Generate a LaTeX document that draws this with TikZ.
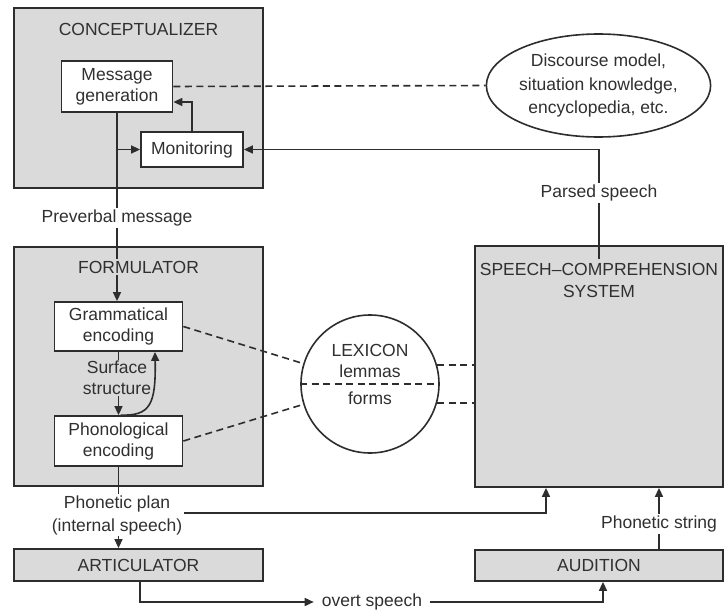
\documentclass[tikz,border=0pt]{standalone}
\usepackage{fontspec}
\setmainfont{Liberation Sans}
\usetikzlibrary{arrows.meta,shapes.geometric,calc}
\definecolor{boxgray}{RGB}{218,218,218}
\definecolor{ink}{RGB}{48,48,48}
\definecolor{edge}{RGB}{45,45,45}
\begin{document}
\begin{tikzpicture}[x=1pt,y=-1pt,
  every node/.style={font=\fontsize{17.5}{21}\selectfont, text=ink},
  box/.style={draw=edge, line width=1.8pt, fill=boxgray, inner sep=0pt},
  wbox/.style={draw=edge, line width=1.8pt, fill=white, inner sep=0pt, align=center},
  lbl/.style={fill=white, inner sep=1.5pt, align=center},
  glbl/.style={fill=boxgray, inner sep=1.5pt, align=center},
  conn/.style={draw=edge, line width=1.6pt},
  arr/.style={conn, -{Triangle[length=9pt,width=8pt]}},
  dashline/.style={draw=edge, line width=1.6pt, dash pattern=on 7pt off 4.5pt}]
\path[fill=white] (0,0) rectangle (724,610);
\useasboundingbox (0,0) rectangle (724,610);

% boxes
\node[box, minimum width=249pt, minimum height=180pt] (concept) at (138.5,98) {};
\node (conceptlbl) at (138.5,29) {CONCEPTUALIZER};
\node[wbox, minimum width=111pt, minimum height=51pt] (msg) at (117,86.5) {Message\\generation};
\node[wbox, minimum width=102pt, minimum height=35pt] (mon) at (192,149.5) {Monitoring};
\node[draw=edge, line width=1.6pt, ellipse, minimum width=177pt, minimum height=103pt, inner sep=0pt, align=center, font=\fontsize{17.5}{23.5}\selectfont] (disc) at (598.5,85.5) {Discourse model,\\situation knowledge,\\encyclopedia, etc.};

\node[box, minimum width=249pt, minimum height=239pt] (form) at (138.5,366.5) {};
\node[wbox, minimum width=128pt, minimum height=49pt] (gram) at (118.5,326.5) {Grammatical\\encoding};
\node[wbox, minimum width=128pt, minimum height=50pt] (phon) at (118.5,441) {Phonological\\encoding};
\node[draw=edge, line width=1.6pt, circle, minimum size=138pt, inner sep=0pt, fill=white] (lex) at (370,384) {};
\node[box, minimum width=248pt, minimum height=241pt] (scs) at (599,366.5) {};
\node[box, minimum width=249pt, minimum height=32pt] (artic) at (138.5,565) {ARTICULATOR};
\node[box, minimum width=248pt, minimum height=31pt] (aud) at (599,565.5) {AUDITION};

% conceptualizer connectors
\coordinate (mm) at (192,102);
\draw[arr] (mon.north) -- (mm) -- (msg.east |- mm);
\draw[arr] (msg.south) -- (msg.south |- gram.north);
\draw[arr] (msg.south |- mon.west) -- (mon.west);
\draw[dashline] (msg.east) -- (disc.west);
\coordinate (ps) at (599,259);
\draw[arr] (ps) |- (mon.east);

% formulator connectors
\draw[arr] (gram.south) -- (phon.north);
\node[glbl, font=\fontsize{17.5}{21}\selectfont] (surf) at (117,378) {Surface\\structure};
\draw[arr] ([xshift=2pt]phon.north) .. controls (150,416) and (156,405) .. ([xshift=36.5pt]gram.south);

% lexicon
\draw[dashline] (gram.east) -- (lex.163);
\draw[dashline] (phon.east) -- (lex.197);
\draw[dashline] (lex.16) -- (lex.16 -| scs.west);
\draw[dashline] (lex.344) -- (lex.344 -| scs.west);
\draw[dashline] (lex.west) -- (lex.east);
\node (lexlbl) at (370,350) {LEXICON};
\node (lemlbl) at (370,371) {lemmas};
\node (formslbl) at (370,398) {forms};

% articulation / audition
\draw[arr] (phon.south) -- (phon.south |- artic.north);
\coordinate (ppr) at (177,513);
\draw[arr] (ppr) -| ([xshift=-53pt]scs.south);
\node[lbl, inner xsep=8pt] (ov) at (372,602) {overt speech};
\draw[arr] ([xshift=1.5pt]artic.south) |- (ov.west);
\draw[arr] (ov.east) -| ([xshift=4pt]aud.south);
\draw[arr] ([xshift=60pt]aud.north) -- ([xshift=60pt]scs.south);

% labels
\node[lbl] (pv) at (117,218) {Preverbal message};
\node[lbl] (parsed) at (599,193) {Parsed speech};
\node[glbl] (formlbl) at (138.5,267) {FORMULATOR};
\node[align=center, font=\fontsize{17.5}{22}\selectfont] (scslbl) at (599,280) {SPEECH–COMPREHENSION\\SYSTEM};
\node[lbl, font=\fontsize{17.5}{23}\selectfont] (pp) at (117,515) {Phonetic plan\\(internal speech)};
\node[lbl] (pstr) at (659,524) {Phonetic string};
\end{tikzpicture}
\end{document}
